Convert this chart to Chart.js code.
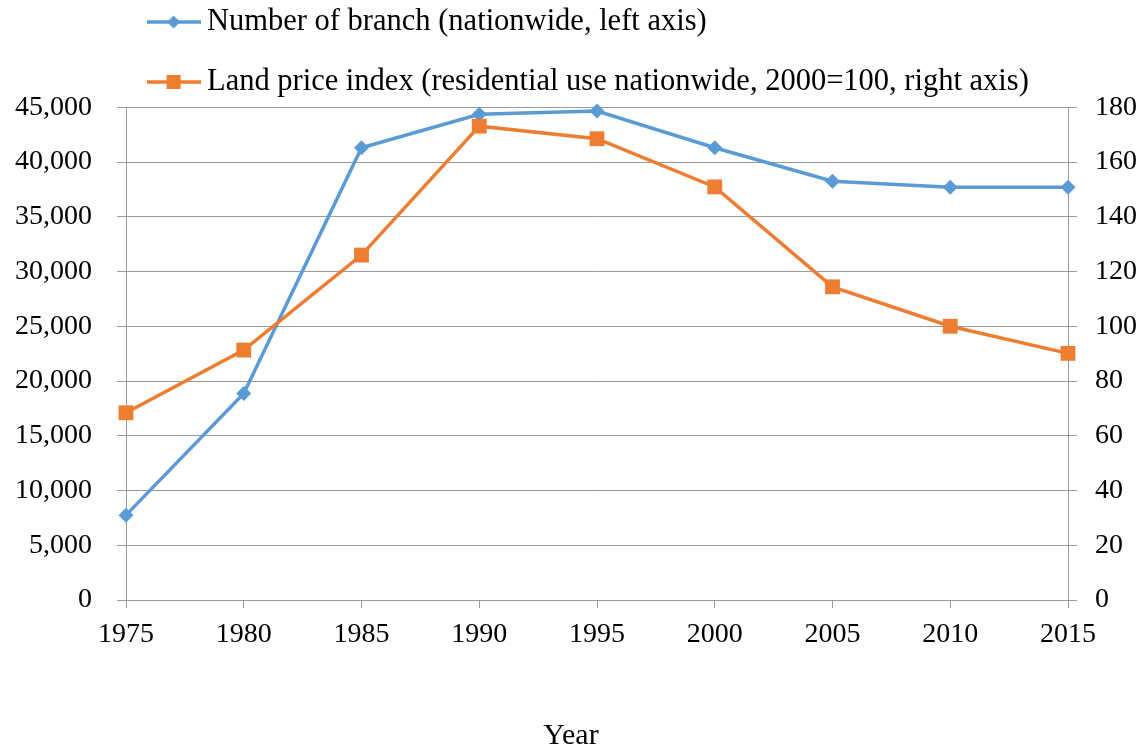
<!DOCTYPE html>
<html>
<head>
<meta charset="utf-8">
<script src="https://cdn.jsdelivr.net/npm/chart.js@4/dist/chart.umd.min.js"></script>
<style>
  html, body { margin: 0; padding: 0; background: #ffffff; }
  #wrap { width: 1142px; height: 749px; position: relative; }
</style>
</head>
<body>
<div id="wrap"><canvas id="chart"></canvas></div>
<script>
// Survey years (x axis)
const years = ['1975', '1980', '1985', '1990', '1995', '2000', '2005', '2010', '2015'];
// Number of branches, nationwide (left axis)
const branches = [7750, 18850, 41300, 44350, 44650, 41300, 38250, 37700, 37700];
// Land price index, residential use nationwide, 2000 = 100 (right axis)
const landIndex = [68.4, 91.3, 126.0, 173.1, 168.5, 150.9, 114.4, 100.0, 90.1];
// Axis tick values
const leftTicks = [0, 5000, 10000, 15000, 20000, 25000, 30000, 35000, 40000, 45000];
const rightTicks = [0, 20, 40, 60, 80, 100, 120, 140, 160, 180];

const seriesNames = [
  'Number of branch (nationwide, left axis)',
  'Land price index (residential use nationwide, 2000=100, right axis)'
];

const BLUE = '#5B9BD5';
const ORANGE = '#ED7D31';
const GRID = '#9a9a9a';
const SERIF = '"Liberation Serif", "Times New Roman", serif';

// Legend key: short line with the series marker in the middle
function legendKey(color, shape) {
  const c = document.createElement('canvas');
  c.width = 54; c.height = 18;
  const g = c.getContext('2d');
  g.strokeStyle = color;
  g.lineWidth = 3.5;
  g.beginPath(); g.moveTo(0, 9); g.lineTo(54, 9); g.stroke();
  g.fillStyle = color;
  const cx = 27, cy = 9;
  if (shape === 'diamond') {
    g.beginPath();
    g.moveTo(cx, cy - 6.5); g.lineTo(cx + 6.5, cy); g.lineTo(cx, cy + 6.5); g.lineTo(cx - 6.5, cy);
    g.closePath(); g.fill();
  } else {
    g.fillRect(cx - 7, cy - 7, 14, 14);
  }
  return c;
}
const legendKeys = [legendKey(BLUE, 'diamond'), legendKey(ORANGE, 'square')];

new Chart(document.getElementById('chart'), {
  type: 'line',
  data: {
    labels: years,
    datasets: [
      {
        label: seriesNames[0],
        data: branches,
        yAxisID: 'yLeft',
        borderColor: BLUE,
        backgroundColor: BLUE,
        borderWidth: 3.5,
        pointStyle: 'rectRot',
        pointRadius: 7.5,
        pointHoverRadius: 7.5,
        pointBorderWidth: 0,
        tension: 0,
        clip: false,
        order: 1
      },
      {
        label: seriesNames[1],
        data: landIndex,
        yAxisID: 'yRight',
        borderColor: ORANGE,
        backgroundColor: ORANGE,
        borderWidth: 3.5,
        pointStyle: 'rect',
        pointRadius: 10.5,
        pointHoverRadius: 10.5,
        pointBorderWidth: 0,
        tension: 0,
        clip: false,
        order: 0
      }
    ]
  },
  options: {
    responsive: true,
    maintainAspectRatio: false,
    animation: false,
    layout: { padding: { top: -22.75, left: 0, right: 0, bottom: 0 } },
    plugins: {
      tooltip: { enabled: false },
      title: {
        display: true,
        position: 'bottom',
        text: 'Year',
        color: '#000000',
        font: { family: SERIF, size: 30, weight: 'normal', lineHeight: 0.8 },
        padding: { top: 0, bottom: 1 }
      },
      legend: {
        display: true,
        position: 'top',
        align: 'start',
        fullSize: false,
        labels: {
          font: { family: SERIF, size: 30.5 },
          color: '#000000',
          padding: 29.5,
          usePointStyle: true,
          pointStyleWidth: 36.25,
          sort: (a, b) => a.datasetIndex - b.datasetIndex,
          generateLabels(chart) {
            const items = Chart.defaults.plugins.legend.labels.generateLabels(chart);
            items.forEach(it => { it.pointStyle = legendKeys[it.datasetIndex]; });
            return items;
          }
        }
      }
    },
    scales: {
      x: {
        type: 'category',
        offset: false,
        grid: {
          display: true,
          drawOnChartArea: false,
          drawTicks: true,
          tickLength: 8,
          color: GRID
        },
        border: { display: true, color: GRID, width: 1 },
        ticks: {
          font: { family: SERIF, size: 28 },
          color: '#000000',
          padding: 10,
          maxRotation: 0,
          autoSkip: false
        },
        afterFit(scale) { scale.height = 124; }
      },
      yLeft: {
        type: 'linear',
        position: 'left',
        min: 0,
        max: 45000,
        afterBuildTicks(scale) { scale.ticks = leftTicks.map(v => ({ value: v })); },
        grid: {
          display: true,
          drawOnChartArea: true,
          drawTicks: true,
          tickLength: 9,
          color: GRID,
          lineWidth: 1
        },
        border: { display: true, color: GRID, width: 1 },
        ticks: {
          font: { family: SERIF, size: 28 },
          color: '#000000',
          padding: 25,
          callback: v => v.toLocaleString('en-US')
        },
        afterFit(scale) { scale.width = 126; }
      },
      yRight: {
        type: 'linear',
        position: 'right',
        min: 0,
        max: 180,
        afterBuildTicks(scale) { scale.ticks = rightTicks.map(v => ({ value: v })); },
        grid: {
          display: true,
          drawOnChartArea: false,
          drawTicks: true,
          tickLength: 9,
          color: GRID,
          lineWidth: 1
        },
        border: { display: true, color: GRID, width: 1 },
        ticks: {
          font: { family: SERIF, size: 28 },
          color: '#000000',
          padding: 18,
          callback: v => String(v)
        },
        afterFit(scale) { scale.width = 74; }
      }
    }
  }
});
</script>
</body>
</html>
